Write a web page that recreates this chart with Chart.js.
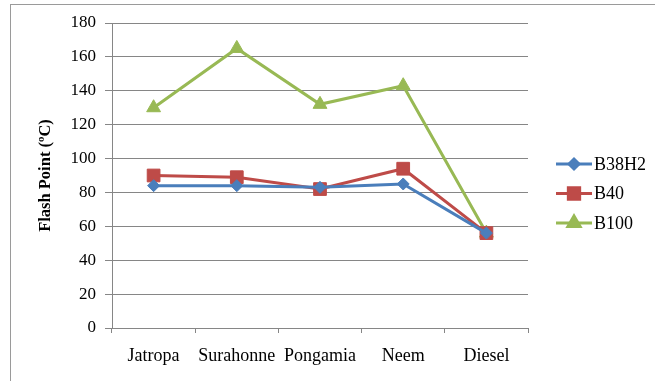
<!DOCTYPE html>
<html>
<head>
<meta charset="utf-8">
<script src="https://cdn.jsdelivr.net/npm/chart.js@4"></script>
<style>
  body { margin: 0; background: #fff; overflow: hidden; }
  #wrap { position: relative; width: 655px; height: 381px; }
  #frame { position: absolute; left: 10px; top: 4px; width: 700px; height: 420px; border: 1px solid #9a9a9a; }
  canvas { position: absolute; left: 0; top: 0; }
</style>
</head>
<body>
<div id="wrap">
  <div id="frame"></div>
  <canvas id="flashChart" width="655" height="381"></canvas>
</div>
<script>
var fuels = ["Jatropa", "Surahonne", "Pongamia", "Neem", "Diesel"];
var b38h2 = [84, 84, 83, 85, 56];
var b40 = [90, 89, 82, 94, 56];
var b100 = [130, 165, 132, 143, 56];
var yTicks = [0, 20, 40, 60, 80, 100, 120, 140, 160, 180];

var serif = "'Liberation Serif', 'Times New Roman', serif";

// legend drawn as line + marker, like the original
var sideLegend = {
    id: 'sideLegend',
    afterDraw: function (chart) {
        var ctx = chart.ctx;
        var x0 = 556, y0 = 164, step = 29.5;
        chart.data.datasets.forEach(function (ds, i) {
            var y = y0 + i * step;
            ctx.save();
            ctx.strokeStyle = ds.borderColor;
            ctx.lineWidth = 3;
            ctx.beginPath();
            ctx.moveTo(x0, y);
            ctx.lineTo(x0 + 36, y);
            ctx.stroke();
            Chart.helpers.drawPoint(ctx, {
                pointStyle: ds.pointStyle,
                radius: ds.pointRadius - 1,
                rotation: 0,
                borderWidth: 1
            }, x0 + 18, y);
            ctx.fillStyle = ds.borderColor;
            ctx.fill();
            ctx.fillStyle = '#000';
            ctx.font = '18px ' + serif;
            ctx.textBaseline = 'middle';
            ctx.fillText(ds.label, x0 + 38, y + 1);
            ctx.restore();
        });
    }
};

var ctx = document.getElementById("flashChart").getContext('2d');
var flashChart = new Chart(ctx, {
    type: 'line',
    data: {
        labels: fuels,
        datasets: [{
            label: "B38H2",
            data: b38h2,
            borderColor: "#4A7EBB",
            backgroundColor: "#4A7EBB",
            pointStyle: 'rectRot',
            pointRadius: 6
        }, {
            label: "B40",
            data: b40,
            borderColor: "#BE4B48",
            backgroundColor: "#BE4B48",
            pointStyle: 'rect',
            pointRadius: 9
        }, {
            label: "B100",
            data: b100,
            borderColor: "#98B954",
            backgroundColor: "#98B954",
            pointStyle: 'triangle',
            pointRadius: 8
        }]
    },
    options: {
        responsive: false,
        animation: false,
        elements: {
            line: { borderWidth: 3, tension: 0 },
            point: { borderWidth: 1 }
        },
        layout: { padding: { left: 36, top: 23, right: 127, bottom: 0 } },
        plugins: {
            legend: { display: false },
            tooltip: { enabled: false }
        },
        scales: {
            x: {
                offset: true,
                grid: { offset: true, drawOnChartArea: false, drawTicks: true, tickLength: 5, color: '#868686' },
                border: { color: '#868686' },
                ticks: { color: '#000', font: { family: serif, size: 18 }, padding: 12 },
                afterFit: function (s) { s.height = 53; }
            },
            y: {
                min: 0,
                max: 180,
                afterBuildTicks: function (s) {
                    s.ticks = yTicks.map(function (v) { return { value: v }; });
                },
                grid: { color: '#868686', tickLength: 7 },
                border: { color: '#868686' },
                ticks: { color: '#000', font: { family: serif, size: 17 }, padding: 9 },
                title: {
                    display: true,
                    text: 'Flash Point (ºC)',
                    color: '#000',
                    font: { family: serif, size: 16.5, weight: 'bold' },
                    padding: { top: 0, bottom: 10 }
                },
                afterFit: function (s) { s.width = 76; }
            }
        }
    },
    plugins: [sideLegend]
});
</script>
</body>
</html>
